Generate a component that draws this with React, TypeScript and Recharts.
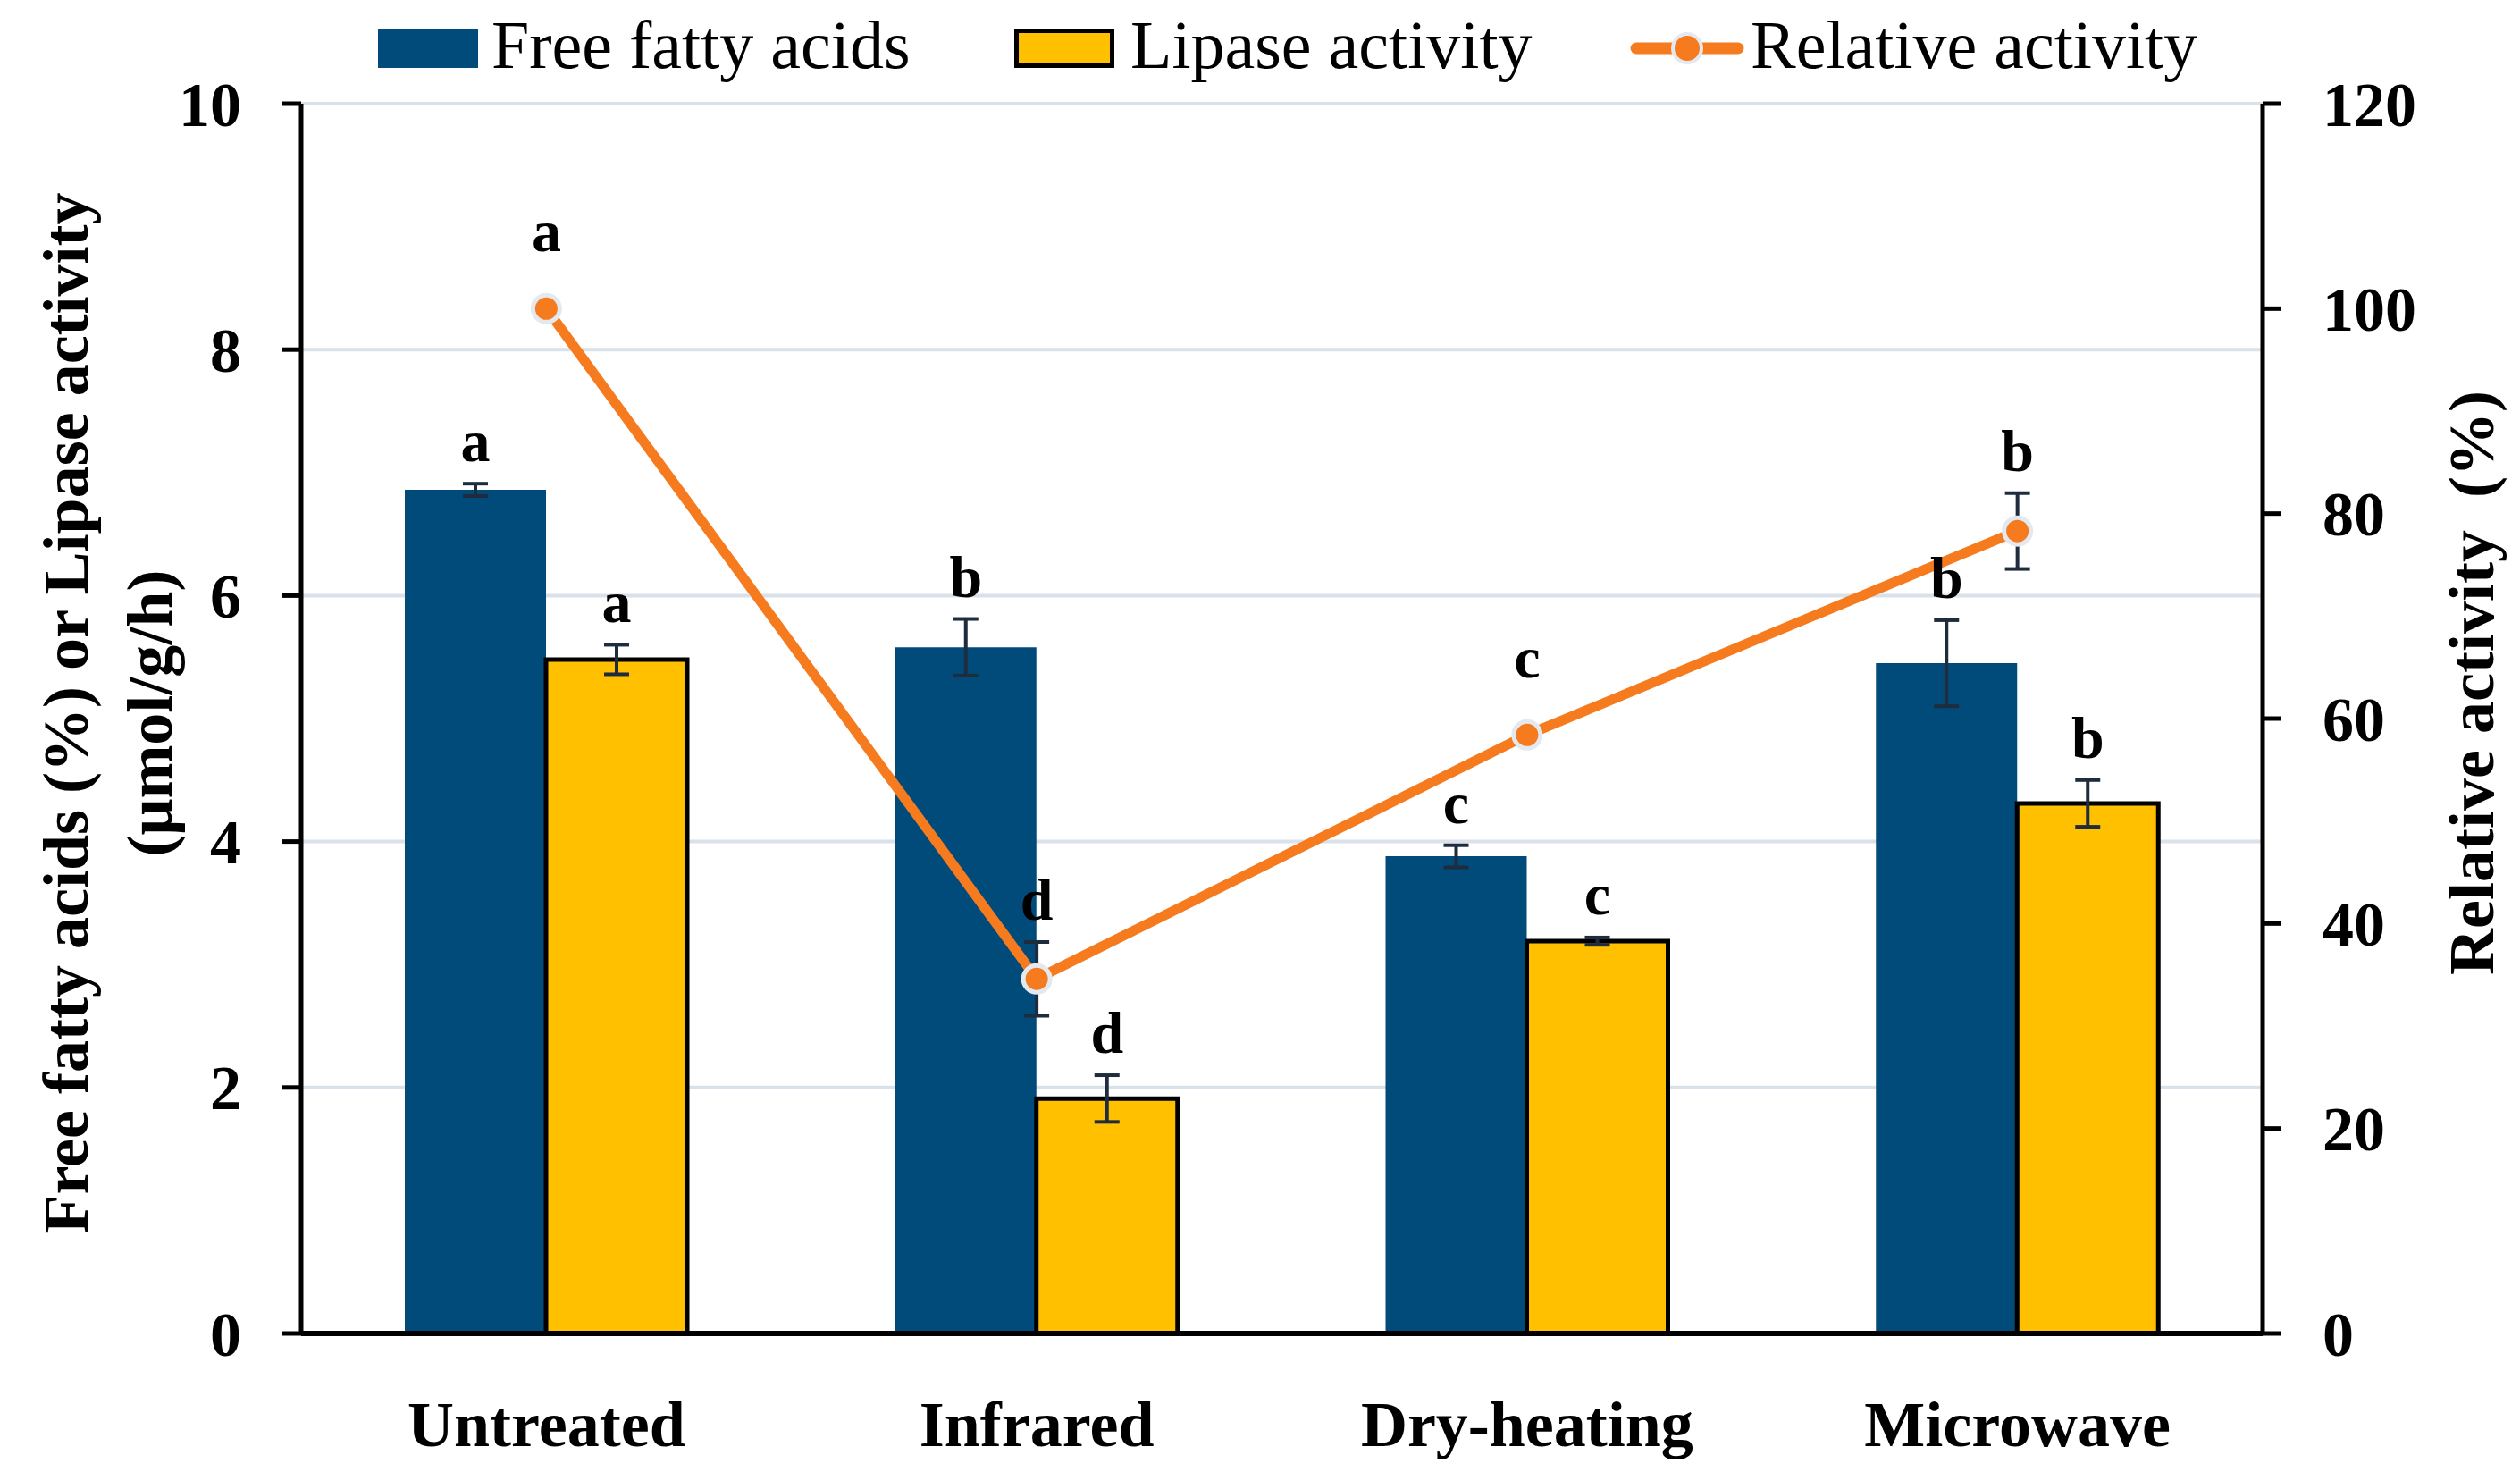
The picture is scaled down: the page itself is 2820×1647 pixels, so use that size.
import { ComposedChart, Bar, Line, XAxis, YAxis, CartesianGrid, ErrorBar, LabelList } from 'recharts';

const categorias = ['Untreated', 'Infrared', 'Dry-heating', 'Microwave'];
const acidosGrasos = [6.86, 5.58, 3.88, 5.45];
const acidosErr = [0.05, 0.23, 0.09, 0.35];
const acidosLetras = ['a', 'b', 'c', 'b'];
const lipasa = [5.48, 1.91, 3.19, 4.31];
const lipasaErr = [0.12, 0.19, 0.03, 0.19];
const lipasaLetras = ['a', 'd', 'c', 'b'];
const relativa = [100, 34.6, 58.4, 78.3];
const relativaErr = [0, 3.6, 0, 3.7];
const relativaLetras = ['a', 'd', 'c', 'b'];
const ticksIzq = [0, 2, 4, 6, 8, 10];
const ticksDer = [0, 20, 40, 60, 80, 100, 120];

const AZUL = '#014B7B';
const AMARILLO = '#FFC000';
const NARANJA = '#F67B1F';
const FUENTE = '"Liberation Serif", "Times New Roman", serif';

const ANCHO = 2804;
const ALTO = 1631;
const ALTO_PLOT = 1376;

const data = categorias.map((c, i) => ({
    nombre: c,
    ffa: acidosGrasos[i],
    ffaErr: acidosErr[i],
    lip: lipasa[i],
    lipErr: lipasaErr[i],
    rel: relativa[i],
    relErr: relativaErr[i],
}));

// letra de significancia encima de la barra de error
function letra(letras: string[], errs: number[], pxUnidad: number, minGap: number) {
    return (props: any) => {
        const vb = props.viewBox || {};
        const x = props.x ?? vb.x;
        const y = props.y ?? vb.y;
        const w = props.width ?? vb.width ?? 0;
        const i = props.index;
        const gap = Math.max(errs[i] * pxUnidad + 25, minGap);
        return (
            <text x={x + w / 2} y={y - gap} textAnchor="middle" fontFamily={FUENTE} fontWeight="bold" fontSize={66} fill="#000">
                {letras[i]}
            </text>
        );
    };
}

const tickNum = (anchor: 'start' | 'end') => (props: any) => {
    const { x, y, payload } = props;
    return (
        <text x={x} y={y} dy="0.35em" textAnchor={anchor} fontFamily={FUENTE} fontWeight="bold" fontSize={70} fill="#000">
            {payload.value}
        </text>
    );
};

const tickCat = (props: any) => {
    const { x, y, payload } = props;
    return (
        <text x={x} y={y} dy="0.71em" textAnchor="middle" fontFamily={FUENTE} fontWeight="bold" fontSize={72} fill="#000">
            {payload.value}
        </text>
    );
};

const tituloIzq = (props: any) => {
    const vb = props.viewBox;
    const cy = vb.y + vb.height / 2 - 6;
    const estilo = { fontFamily: FUENTE, fontWeight: 'bold' as const, fontSize: 72, fill: '#000' };
    return (
        <g>
            <text x={65} y={cy} transform={`rotate(-90 65 ${cy})`} textAnchor="middle" dy="0.35em" {...estilo}>
                Free fatty acids (%) or Lipase activity
            </text>
            <text x={159} y={cy} transform={`rotate(-90 159 ${cy})`} textAnchor="middle" dy="0.35em" {...estilo}>
                (μmol/g/h)
            </text>
        </g>
    );
};

const tituloDer = (props: any) => {
    const vb = props.viewBox;
    const cy = vb.y + vb.height / 2 - 40;
    const cx = 2757;
    return (
        <text x={cx} y={cy} transform={`rotate(-90 ${cx} ${cy})`} textAnchor="middle" dy="0.35em" fontFamily={FUENTE} fontWeight="bold" fontSize={72} fill="#000" style={{ whiteSpace: 'pre' }}>
            {'Relative activity  (%)'}
        </text>
    );
};

function Leyenda() {
    const txt = { position: 'absolute' as const, top: -4, fontFamily: FUENTE, fontSize: 76, lineHeight: '92px', color: '#000' };
    return (
        <>
            <div style={{ position: 'absolute', left: 415, top: 24, width: 112, height: 44, background: AZUL }} />
            <div style={{ ...txt, left: 542 }}>Free fatty acids</div>
            <div style={{ position: 'absolute', left: 1127, top: 24, width: 112, height: 44, background: AMARILLO, border: '5px solid #000', boxSizing: 'border-box' }} />
            <div style={{ ...txt, left: 1257 }}>Lipase activity</div>
            <svg style={{ position: 'absolute', left: 1815, top: 20 }} width={130} height={52}>
                <line x1={8} y1={26} x2={122} y2={26} stroke={NARANJA} strokeWidth={13} strokeLinecap="round" />
                <circle cx={65} cy={26} r={16} fill={NARANJA} stroke="#E3E9EF" strokeWidth={4} />
            </svg>
            <div style={{ ...txt, left: 1951 }}>Relative activity</div>
        </>
    );
}

export default function App() {
    return (
        <div style={{ position: 'relative', width: ANCHO, height: ALTO, background: '#fff' }}>
            <ComposedChart width={ANCHO} height={ALTO} data={data} margin={{ top: 108, right: 0, bottom: 0, left: 0 }} barGap={0}>
                <CartesianGrid yAxisId="izq" vertical={false} stroke="#D9E1EA" strokeWidth={4} />
                <XAxis dataKey="nombre" height={147} tickLine={false} tickSize={0} tickMargin={75} tick={tickCat} axisLine={{ stroke: '#000', strokeWidth: 6 }} />
                <YAxis
                    yAxisId="izq"
                    orientation="left"
                    width={329}
                    domain={[0, 10]}
                    ticks={ticksIzq}
                    tickSize={21}
                    tickMargin={46}
                    tick={tickNum('end')}
                    axisLine={{ stroke: '#000', strokeWidth: 5 }}
                    tickLine={{ stroke: '#000', strokeWidth: 5 }}
                    label={{ content: tituloIzq }}
                />
                <YAxis
                    yAxisId="der"
                    orientation="right"
                    width={280}
                    domain={[0, 120]}
                    ticks={ticksDer}
                    tickSize={21}
                    tickMargin={46}
                    tick={tickNum('start')}
                    axisLine={{ stroke: '#000', strokeWidth: 5 }}
                    tickLine={{ stroke: '#000', strokeWidth: 5 }}
                    label={{ content: tituloDer }}
                />
                <Bar yAxisId="izq" dataKey="ffa" fill={AZUL} barSize={158} isAnimationActive={false}>
                    <ErrorBar dataKey="ffaErr" width={14} stroke="#1E2C3E" strokeWidth={4} direction="y" />
                    <LabelList dataKey="ffa" content={letra(acidosLetras, acidosErr, ALTO_PLOT / 10, 30)} />
                </Bar>
                <Bar yAxisId="izq" dataKey="lip" fill={AMARILLO} stroke="#000" strokeWidth={5} barSize={158} isAnimationActive={false}>
                    <ErrorBar dataKey="lipErr" width={14} stroke="#1E2C3E" strokeWidth={4} direction="y" />
                    <LabelList dataKey="lip" content={letra(lipasaLetras, lipasaErr, ALTO_PLOT / 10, 30)} />
                </Bar>
                <Line
                    yAxisId="der"
                    dataKey="rel"
                    stroke={NARANJA}
                    strokeWidth={11}
                    dot={{ r: 15, fill: NARANJA, stroke: '#E3E9EF', strokeWidth: 5 }}
                    activeDot={false}
                    isAnimationActive={false}
                >
                    <ErrorBar dataKey="relErr" width={14} stroke="#1E2C3E" strokeWidth={4} direction="y" />
                    <LabelList dataKey="rel" content={letra(relativaLetras, relativaErr, ALTO_PLOT / 120, 64)} />
                </Line>
            </ComposedChart>
            <Leyenda />
        </div>
    );
}
